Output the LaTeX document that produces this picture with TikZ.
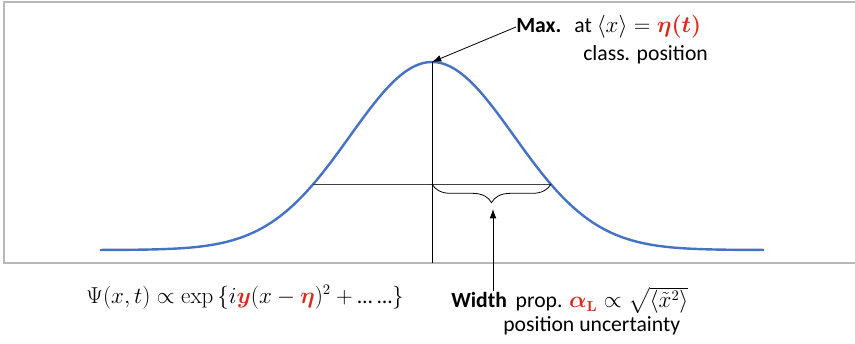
\documentclass[tikz,border=0pt]{standalone}
\usepackage{amsmath,amssymb}
\usepackage[no-math]{fontspec}
\setmainfont{Carlito}
\usepackage{xcolor}
\usepackage{tikz}
\usetikzlibrary{arrows.meta, positioning, calc, decorations.pathreplacing}

\definecolor{curveblue}{RGB}{68,114,196}
\definecolor{hlred}{RGB}{222,42,28}

\begin{document}
\begin{tikzpicture}[
    x=0.75pt, y=-0.75pt,
    lbl/.style={inner sep=0pt, font=\fontsize{16.25}{19.5}\selectfont},
    frame/.style={draw=black!28, line width=1pt},
    curve/.style={draw=curveblue, line width=1.8pt},
    guide/.style={draw=black!75, line width=0.6pt},
    arrow/.style={-{Latex[length=7pt,width=5pt]}, line width=0.6pt},
    brace/.style={decorate, decoration={brace, mirror, amplitude=14pt}, line width=0.6pt}
]
\useasboundingbox (0,0) rectangle (855,343);

% Frame
\draw[frame] (855,2) -- (4,2) -- (4,263) -- (855,263);

% Coordinates
\coordinate (peak) at (432,62);
\coordinate (axisbot) at (432,263);
\coordinate (hleft) at (313,184);
\coordinate (hmid) at (432,184);
\coordinate (hright) at (551,184);
\coordinate (bracetip) at (493,209);

% Curve
\draw[curve] plot[domain=-4.05:4.05, samples=121, smooth] ({432+82*\x}, {250-188*exp(-\x*\x/2)});

% Guides
\draw[guide] (hleft) -- (hright);
\draw[guide, draw=black] (peak) -- (axisbot);
\draw[brace] (hmid) -- (hright);

% Nodes
\node[lbl, anchor=west] (maxlbl) at (516,27) {\textbf{Max.}\hspace{0.6em}at $\langle x\rangle = \textcolor{hlred}{\boldsymbol{\eta(t)}}$};
\node[lbl, anchor=west] (classpos) at (583,55) {class. position};
\node[lbl, font=\fontsize{16}{19}\selectfont] (psi) at (245,297) {$\Psi(x,t) \propto \exp\,\{i\textcolor{hlred}{\boldsymbol{y}}(x-\textcolor{hlred}{\boldsymbol{\eta}})^2+\text{… …}\}$};
\node[lbl, anchor=west] (widthlbl) at (451,299) {\textbf{Width}\hspace{0.4em}prop. $\textcolor{hlred}{\boldsymbol{\alpha}_{\mathbf{L}}} \propto \smash[b]{\sqrt{\langle\tilde{x}^2\rangle}}$};
\node[lbl, anchor=west] (uncert) at (503,326) {position uncertainty};

% Connections
\draw[arrow] (maxlbl.west) -- (peak);
\draw[arrow] ([yshift=-3pt]widthlbl.north -| bracetip) -- (bracetip);

\end{tikzpicture}
\end{document}
